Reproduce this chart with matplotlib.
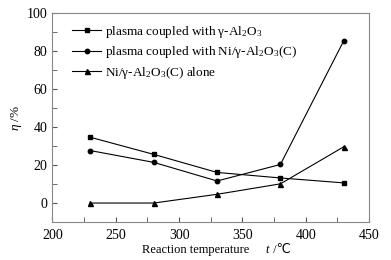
import matplotlib
matplotlib.use('Agg')
import matplotlib.pyplot as plt
from matplotlib.ticker import MultipleLocator

plt.rcParams['font.family'] = ['Liberation Serif', 'DejaVu Sans']
plt.rcParams['mathtext.fontset'] = 'custom'
plt.rcParams['mathtext.rm'] = 'Liberation Serif'
plt.rcParams['mathtext.it'] = 'Liberation Serif:italic'

temps = [230, 280, 330, 380, 430]
plasma_al2o3 = [34.6, 25.6, 16.1, 13.2, 10.6]
plasma_ni = [27.6, 21.4, 11.6, 20.3, 85.4]
ni_alone = [0, 0, 4.6, 10.1, 29.6]

labels = [r'plasma coupled with γ-Al$_2$O$_3$',
          r'plasma coupled with Ni/γ-Al$_2$O$_3$(C)',
          r'Ni/γ-Al$_2$O$_3$(C) alone']

fig = plt.figure(figsize=(3.91, 2.60), dpi=100)
ax = fig.add_axes([0.134, 0.146, 0.810, 0.804])

ax.plot(temps, plasma_al2o3, 'k-', marker='s', ms=3.2, lw=0.8, label=labels[0])
ax.plot(temps, plasma_ni, 'k-', marker='o', ms=3.2, lw=0.8, label=labels[1])
ax.plot(temps, ni_alone, 'k-', marker='^', ms=3.6, lw=0.8, label=labels[2])

ax.set_xlim(200, 450)
ax.set_ylim(-10, 100)
ax.xaxis.set_major_locator(MultipleLocator(50))
ax.xaxis.set_minor_locator(MultipleLocator(25))
ax.yaxis.set_major_locator(MultipleLocator(20))
ax.yaxis.set_minor_locator(MultipleLocator(10))
ax.tick_params(which='both', direction='in', labelsize=10, color='#555555')
ax.tick_params(which='both', length=3.5)
ax.tick_params(axis='x', pad=5)
for s in ax.spines.values():
    s.set_color('#888888')
    s.set_linewidth(0.8)

ax.set_ylabel(r'$\it{η}$ /%', fontsize=9.5, labelpad=2)

# x label in pieces so the ℃ sign can fall back to DejaVu
fig.text(0.50, 0.028, 'Reaction temperature', fontsize=9, ha='center')
fig.text(0.678, 0.028, 't', fontsize=9, style='italic')
fig.text(0.690, 0.028, ' /℃', fontsize=9)

ax.legend(loc='upper left', frameon=False, fontsize=9.5, handlelength=2.2,
          handletextpad=0.3, labelspacing=0.35, borderaxespad=0.4,
          bbox_to_anchor=(0.03, 1.0))

fig.savefig('out.png', dpi=100)
